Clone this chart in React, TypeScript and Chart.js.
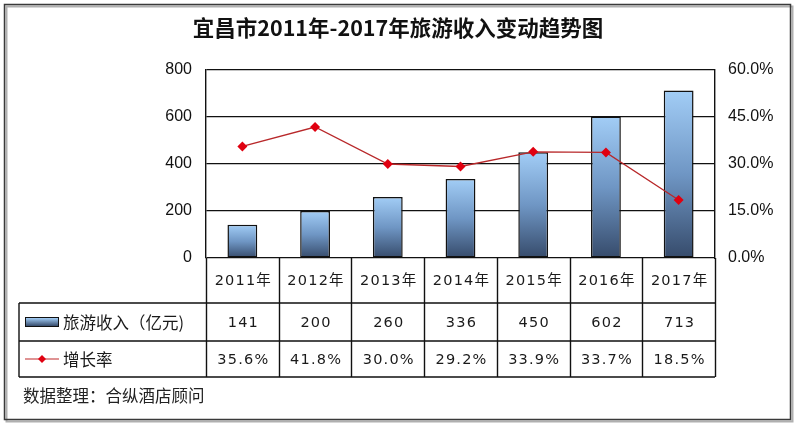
import React, { useEffect, useRef } from "react";
import { Chart, registerables } from "chart.js";

Chart.register(...registerables);

const TITLE = "宜昌市2011年-2017年旅游收入变动趋势图";
const SOURCE = "数据整理：合纵酒店顾问";
const categories = ["2011年", "2012年", "2013年", "2014年", "2015年", "2016年", "2017年"];
const revenue = [141, 200, 260, 336, 450, 602, 713];
const growth = [35.6, 41.8, 30.0, 29.2, 33.9, 33.7, 18.5];
const revenueLabel = "旅游收入（亿元)";
const growthLabel = "增长率";
const leftTicks = [0, 200, 400, 600, 800];
const rightTicks = [0, 15, 30, 45, 60];

const TABLE_FONT = '"DejaVu Sans", "Noto Sans CJK SC", sans-serif';

function barGradient(ctx: CanvasRenderingContext2D, top: number, bottom: number) {
  const g = ctx.createLinearGradient(0, top, 0, bottom);
  g.addColorStop(0, "#a2cdf6");
  g.addColorStop(0.5, "#6f96c4");
  g.addColorStop(1, "#364b6b");
  return g;
}

const decorPlugin = {
  id: "decor",
  beforeDraw(chart: any) {
    const ctx = chart.ctx as CanvasRenderingContext2D;
    ctx.save();
    ctx.fillStyle = "#ffffff";
    ctx.fillRect(0, 0, chart.width, chart.height);
    ctx.strokeStyle = "#b0b0b0";
    ctx.lineWidth = 2;
    ctx.strokeRect(6.5, 6.5, 786, 415);
    ctx.strokeStyle = "#3a3a3a";
    ctx.lineWidth = 1.5;
    ctx.strokeRect(4.5, 4.5, 786, 415);
    ctx.fillStyle = "#111";
    ctx.font = 'bold 21.5px "Noto Sans CJK SC", sans-serif';
    ctx.textAlign = "center";
    ctx.textBaseline = "middle";
    ctx.fillText(TITLE, 398, 28);
    ctx.restore();
  },
  afterDraw(chart: any) {
    const ctx = chart.ctx as CanvasRenderingContext2D;
    const x = chart.scales.x;
    const area = chart.chartArea;
    const n = categories.length;
    const step = (area.right - area.left) / n;
    const tableLeft = 19;
    const r0 = area.bottom;
    const r1 = 303;
    const r2 = 341;
    const r3 = 377;
    ctx.save();
    ctx.strokeStyle = "#111";
    ctx.lineWidth = 1.4;
    ctx.beginPath();
    ctx.moveTo(tableLeft, r1); ctx.lineTo(area.right, r1);
    ctx.moveTo(tableLeft, r2); ctx.lineTo(area.right, r2);
    ctx.moveTo(tableLeft, r3); ctx.lineTo(area.right, r3);
    ctx.moveTo(tableLeft, r1); ctx.lineTo(tableLeft, r3);
    for (let i = 0; i <= n; i++) {
      const vx = Math.round(area.left + i * step) + 0.5;
      ctx.moveTo(vx, r0); ctx.lineTo(vx, r3);
    }
    ctx.stroke();

    ctx.fillStyle = "#1a1a1a";
    ctx.textAlign = "center";
    ctx.textBaseline = "middle";
    ctx.font = "14.5px " + TABLE_FONT;
    (ctx as any).letterSpacing = "1.2px";
    for (let i = 0; i < n; i++) {
      const cx = x.getPixelForValue(i) + 1;
      ctx.fillText(categories[i], cx, (r0 + r1) / 2 + 1);
      ctx.fillText(String(revenue[i]), cx, (r1 + r2) / 2 + 1);
      ctx.fillText(growth[i].toFixed(1) + "%", cx, (r2 + r3) / 2 + 1);
    }
    (ctx as any).letterSpacing = "0px";

    const sy = (r1 + r2) / 2;
    const g = ctx.createLinearGradient(0, sy - 4, 0, sy + 4);
    g.addColorStop(0, "#a2cdf6");
    g.addColorStop(1, "#364b6b");
    ctx.fillStyle = g;
    ctx.fillRect(25, sy - 4, 33, 8);
    ctx.lineWidth = 1;
    ctx.strokeStyle = "#111";
    ctx.strokeRect(25.5, sy - 4.5, 33, 9);
    ctx.fillStyle = "#1a1a1a";
    ctx.textAlign = "left";
    ctx.font = '16.5px "Noto Sans CJK SC", sans-serif';
    ctx.fillText(revenueLabel, 63, sy + 1);

    const ly = (r2 + r3) / 2;
    ctx.strokeStyle = "#c0282a";
    ctx.lineWidth = 1.2;
    ctx.beginPath();
    ctx.moveTo(25, ly); ctx.lineTo(59, ly);
    ctx.stroke();
    ctx.fillStyle = "#e00010";
    ctx.beginPath();
    ctx.moveTo(42, ly - 4); ctx.lineTo(46, ly); ctx.lineTo(42, ly + 4); ctx.lineTo(38, ly);
    ctx.closePath();
    ctx.fill();
    ctx.fillStyle = "#1a1a1a";
    ctx.fillText(growthLabel, 63, ly + 1);

    ctx.fillStyle = "#222";
    ctx.font = '16.5px "Noto Sans CJK SC", sans-serif';
    ctx.fillText(SOURCE, 23, 396);
    ctx.restore();
  },
};

export default function App() {
  const ref = useRef<HTMLCanvasElement | null>(null);
  useEffect(() => {
    if (!ref.current) return;
    const chart = new Chart(ref.current, {
      type: "bar",
      data: {
        labels: categories,
        datasets: [
          {
            type: "line",
            label: growthLabel,
            data: growth,
            yAxisID: "y1",
            order: 0,
            borderColor: "#b8282a",
            borderWidth: 1.3,
            pointStyle: "rectRot",
            pointRadius: 5,
            pointBackgroundColor: "#e00010",
            pointBorderColor: "#e00010",
            pointBorderWidth: 0,
            tension: 0,
          } as any,
          {
            type: "bar",
            label: revenueLabel,
            data: revenue,
            yAxisID: "y",
            order: 1,
            categoryPercentage: 1,
            barPercentage: 0.41,
            borderColor: "#111",
            borderWidth: 1.5,
            borderSkipped: false,
            backgroundColor: (c: any) => {
              const chart = c.chart;
              if (!chart.chartArea || c.raw == null) return "#6f96c4";
              const y = chart.scales.y;
              return barGradient(chart.ctx, y.getPixelForValue(c.raw), y.getPixelForValue(0));
            },
          } as any,
        ],
      },
      options: {
        responsive: false,
        maintainAspectRatio: false,
        animation: false,
        layout: { padding: { top: 70, bottom: 168, left: 0, right: 0 } },
        plugins: {
          legend: { display: false },
          title: { display: false },
          tooltip: { enabled: false },
        },
        scales: {
          x: {
            display: false,
            offset: true,
          },
          y: {
            position: "left",
            min: 0,
            max: 800,
            afterFit: (s: any) => { s.width = 206; },
            afterBuildTicks: (s: any) => { s.ticks = leftTicks.map((v) => ({ value: v })); },
            grid: { color: "#111", lineWidth: 1.2, drawTicks: false },
            border: { display: true, color: "#111", width: 1.4 },
            ticks: {
              padding: 14,
              color: "#111",
              font: { family: "Liberation Sans", size: 16 },
            },
          },
          y1: {
            position: "right",
            min: 0,
            max: 60,
            afterFit: (s: any) => { s.width = 85; },
            afterBuildTicks: (s: any) => { s.ticks = rightTicks.map((v) => ({ value: v })); },
            grid: { drawOnChartArea: false, drawTicks: false },
            border: { display: true, color: "#111", width: 1.4 },
            ticks: {
              padding: 13,
              color: "#111",
              font: { family: "Liberation Sans", size: 16 },
              callback: (v: any) => Number(v).toFixed(1) + "%",
            },
          },
        },
      } as any,
      plugins: [decorPlugin],
    });
    return () => chart.destroy();
  }, []);
  return (
    <div style={{ position: "absolute", left: 0, top: 0, width: 800, height: 426 }}>
      <canvas ref={ref} width={800} height={426} style={{ display: "block", width: 800, height: 426 }} />
    </div>
  );
}
